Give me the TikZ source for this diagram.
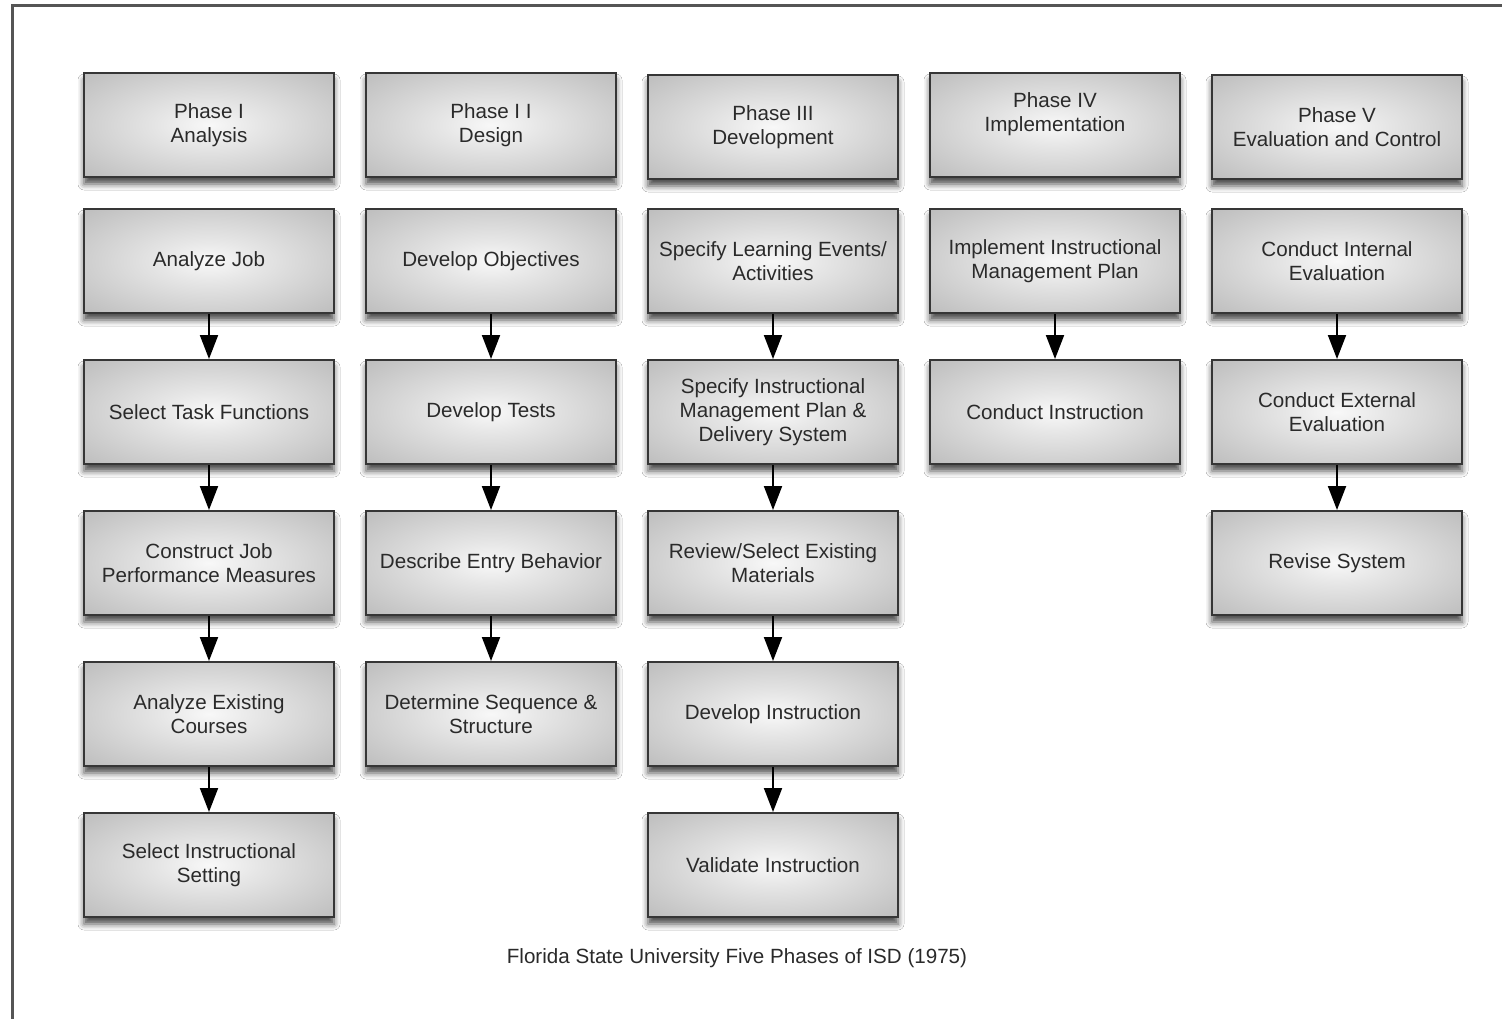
\documentclass[tikz,border=0pt]{standalone}
\usepackage{fontspec}
\setmainfont{Liberation Sans}
\usetikzlibrary{arrows.meta,shadows.blur}

\definecolor{glowA}{HTML}{F8F8F8}
\definecolor{glowB}{HTML}{E6E6E6}
\definecolor{glowC}{HTML}{C6C6C6}
\definecolor{glowD}{HTML}{AAAAAA}
\definecolor{glowE}{HTML}{969696}
\definecolor{boxline}{HTML}{363636}
\definecolor{inktext}{HTML}{2A2A2A}
\definecolor{framegray}{HTML}{555555}

% soft radial glow inside each box
\pgfdeclareradialshading{boxglow}{\pgfpoint{0bp}{0bp}}{%
  color(0bp)=(glowA); color(10bp)=(glowB); color(30bp)=(glowC);
  color(48bp)=(glowD); color(70bp)=(glowE)}

\tikzset{
  stagebox/.style={draw=boxline, line width=2pt, shading=boxglow,
    minimum width=250pt, minimum height=104pt, inner sep=0pt,
    align=center, text=inktext,
    font=\fontsize{20.6}{24}\selectfont,
    blur shadow={shadow xshift=0pt, shadow yshift=-7pt,
      shadow blur radius=6pt, shadow opacity=70}},
  flow/.style={line width=2pt, black,
    -{Triangle[length=24pt, width=18pt]}},
  boxtext/.style={text=inktext, align=center,
    font=\fontsize{20.6}{24}\selectfont},
}

\begin{document}
\begin{tikzpicture}[x=1pt, y=-1pt]
\useasboundingbox (0,0) rectangle (1502,1019);
\fill[white] (0,0) rectangle (1502,1019);

% page frame (top and left edges)
\draw[framegray, line width=3.5pt] (12.5,1019) -- (12.5,5.5) -- (1502,5.5);

% Phase I
\node[stagebox] (p1h) at (209,125) {Phase I\\Analysis};
\node[stagebox] (p1a) at (209,261) {Analyze Job};
\node[stagebox] (p1b) at (209,412) {Select Task Functions};
\node[stagebox] (p1c) at (209,563) {Construct Job\\Performance Measures};
\node[stagebox] (p1d) at (209,714) {Analyze Existing\\Courses};
\node[stagebox] (p1e) at (209,865) {Select Instructional\\Setting};

% Phase II
\node[stagebox] (p2h) at (491,125) {Phase I I\\Design};
\node[stagebox] (p2a) at (491,261) {Develop Objectives};
\node[stagebox] (p2b) at (491,412) {Develop Tests};
\node[stagebox] (p2c) at (491,563) {Describe Entry Behavior};
\node[stagebox] (p2d) at (491,714) {Determine Sequence \&\\Structure};

% Phase III
\node[stagebox] (p3h) at (773,127) {Phase III\\Development};
\node[stagebox] (p3a) at (773,261) {Specify Learning Events/\\Activities};
\node[stagebox] (p3b) at (773,412) {Specify Instructional\\Management Plan \&\\Delivery System};
\node[stagebox] (p3c) at (773,563) {Review/Select Existing\\Materials};
\node[stagebox] (p3d) at (773,714) {Develop Instruction};
\node[stagebox] (p3e) at (773,865) {Validate Instruction};

% Phase IV (heading sits above the box centre)
\node[stagebox] (p4h) at (1055,125) {};
\node[boxtext] (p4t) at (1055,114) {Phase IV\\Implementation};
\node[stagebox] (p4a) at (1055,261) {Implement Instructional\\Management Plan};
\node[stagebox] (p4b) at (1055,412) {Conduct Instruction};

% Phase V
\node[stagebox] (p5h) at (1337,127) {Phase V\\Evaluation and Control};
\node[stagebox] (p5a) at (1337,261) {Conduct Internal\\Evaluation};
\node[stagebox] (p5b) at (1337,412) {Conduct External\\Evaluation};
\node[stagebox] (p5c) at (1337,563) {Revise System};

% flow arrows within each phase
\draw[flow] (p1a) -- (p1b);
\draw[flow] (p1b) -- (p1c);
\draw[flow] (p1c) -- (p1d);
\draw[flow] (p1d) -- (p1e);
\draw[flow] (p2a) -- (p2b);
\draw[flow] (p2b) -- (p2c);
\draw[flow] (p2c) -- (p2d);
\draw[flow] (p3a) -- (p3b);
\draw[flow] (p3b) -- (p3c);
\draw[flow] (p3c) -- (p3d);
\draw[flow] (p3d) -- (p3e);
\draw[flow] (p4a) -- (p4b);
\draw[flow] (p5a) -- (p5b);
\draw[flow] (p5b) -- (p5c);

% caption
\node[boxtext] (cap) at (737,958)
  {Florida State University Five Phases of ISD (1975)};
\end{tikzpicture}
\end{document}
